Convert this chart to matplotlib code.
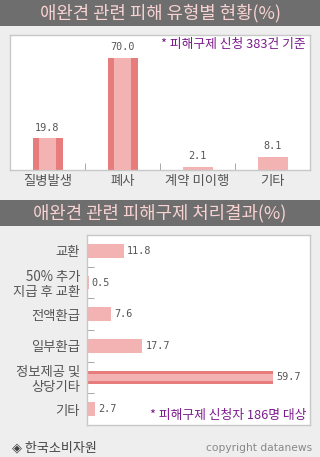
import matplotlib
matplotlib.use('Agg')
from matplotlib import pyplot as plt
from matplotlib.patches import Rectangle

plt.rcParams['font.family'] = ['Noto Sans CJK KR', 'DejaVu Sans']

# 데이터
title1 = '애완견 관련 피해 유형별 현황(%)'
cats1 = ['질병발생', '폐사', '계약 미이행', '기타']
vals1 = [19.8, 70.0, 2.1, 8.1]
hi1 = [True, True, False, False]
note1 = '* 피해구제 신청 383건 기준'

title2 = '애완견 관련 피해구제 처리결과(%)'
cats2 = ['교환', '50% 추가\n지급 후 교환', '전액환급', '일부환급', '정보제공 및\n상당기타', '기타']
vals2 = [11.8, 0.5, 7.6, 17.7, 59.7, 2.7]
hi2 = [False, False, False, False, True, False]
note2 = '* 피해구제 신청자 186명 대상'

source = '◈ 한국소비자원'
copy = 'copyright datanews'

W, H = 320, 457
BG = '#eeeeee'
DARK = '#e77c7c'
LIGHT = '#f4b3b3'
BAR_BG = '#6e6e6e'
TITLE_C = '#f9d2d2'
NOTE_C = '#7b1a8c'
TXT = '#555555'
SPINE = '#c8c8c8'

fig = plt.figure(figsize=(W / 100, H / 100), dpi=100, facecolor=BG)

def fx(px):
    return px / W

def fy(py):
    return 1 - py / H

# 제목 띠
for top, bot, t in [(0, 26, title1), (200, 226, title2)]:
    fig.add_artist(Rectangle((0, fy(bot)), 1, (bot - top) / H, transform=fig.transFigure,
                             facecolor=BAR_BG, edgecolor='none'))
    fig.text(0.5, fy((top + bot) / 2), t, ha='center', va='center', color=TITLE_C,
             fontsize=12.8, fontweight='medium')

# 위 차트 (세로 막대)
ax1 = fig.add_axes([fx(10), fy(170), fx(300), 135 / H])
x = range(len(cats1))
ax1.bar(x, vals1, width=0.4, color=[DARK if h else LIGHT for h in hi1], zorder=2)
ax1.bar([i for i in x if hi1[i]], [v for v, h in zip(vals1, hi1) if h], width=0.23,
        color=LIGHT, zorder=3)
for i, v in enumerate(vals1):
    ax1.text(i, v + 3.5, f'{v:.1f}', ha='center', va='bottom', fontsize=7.3,
             family='DejaVu Sans Mono', color=TXT)
ax1.set_xlim(-0.5, len(cats1) - 0.5)
ax1.set_ylim(0, 84.4)
ax1.set_yticks([])
ax1.set_xticks(list(x))
ax1.set_xticklabels(cats1, fontsize=9.6, color=TXT)
ax1.tick_params(axis='x', which='major', length=0, pad=3)
ax1.set_xticks([i + 0.5 for i in range(len(cats1) - 1)], minor=True)
ax1.tick_params(axis='x', which='minor', direction='in', length=5, color='#999999')
ax1.text(0.985, 0.93, note1, transform=ax1.transAxes, ha='right', va='center',
         fontsize=9.2, color=NOTE_C)

# 아래 차트 (가로 막대)
ax2 = fig.add_axes([fx(87), fy(425), fx(223), 190 / H])
y = range(len(cats2))
ax2.barh(y, vals2, height=0.44, color=[DARK if h else LIGHT for h in hi2], zorder=2)
ax2.barh([i for i in y if hi2[i]], [v for v, h in zip(vals2, hi2) if h], height=0.19,
         color=LIGHT, zorder=3)
for i, v in enumerate(vals2):
    ax2.text(v + 1, i, f'{v:.1f}', ha='left', va='center', fontsize=7.3,
             family='DejaVu Sans Mono', color=TXT)
ax2.set_ylim(len(cats2) - 0.5, -0.5)
ax2.set_xlim(0, 71.5)
ax2.set_xticks([])
ax2.set_yticks(list(y))
ax2.set_yticklabels(cats2, fontsize=9.6, color=TXT, linespacing=1.1)
ax2.tick_params(axis='y', which='major', length=0, pad=5)
ax2.set_yticks([i + 0.5 for i in range(len(cats2) - 1)], minor=True)
ax2.tick_params(axis='y', which='minor', direction='in', length=5, color='#999999')
ax2.text(0.985, 0.05, note2, transform=ax2.transAxes, ha='right', va='center',
         fontsize=9.2, color=NOTE_C)

for ax in (ax1, ax2):
    ax.set_facecolor('white')
    for s in ax.spines.values():
        s.set_color(SPINE)
        s.set_linewidth(1)

# 출처
fig.text(fx(12), fy(448), source, ha='left', va='center', fontsize=9.4, color='#444444')
fig.text(fx(312), fy(448), copy, ha='right', va='center', fontsize=7.7, color='#888888',
         family='DejaVu Sans')

fig.savefig('out.png', dpi=100, facecolor=BG)
